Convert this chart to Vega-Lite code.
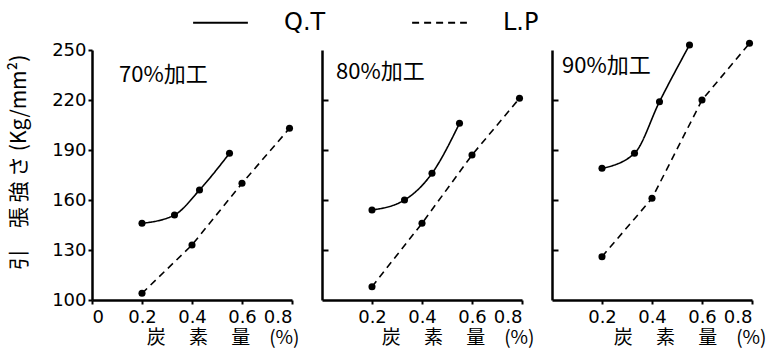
{
  "$schema": "https://vega.github.io/schema/vega-lite/v6.json",
  "background": "white",
  "padding": {"left": 8, "top": -6, "right": 5, "bottom": 2},
  "bounds": "flush",
  "spacing": 30,
  "config": {
    "view": {"stroke": null},
    "font": "DejaVu Sans",
    "axis": {
      "domainColor": "black", "domainWidth": 2.5, "tickColor": "black", "tickWidth": 2,
      "labelColor": "black", "titleColor": "black", "labelFont": "DejaVu Sans", "labelFontSize": 18,
      "grid": false, "titleFont": "Noto Sans CJK JP", "titleFontWeight": "normal", "titleFontSize": 20
    },
    "axisX": {"tickSize": 4, "labelPadding": 4, "titleFontSize": 19, "titleAnchor": "end", "titlePadding": 2},
    "legend": {"labelOffset": 35, "columnPadding": 82, "padding": 0},
    "title": {"font": "Noto Sans CJK JP", "fontSize": 22, "fontWeight": "normal", "color": "black", "frame": "group"}
  },
  "data": {
    "values": [
      {"panel": "70%加工", "series": "Q.T", "carbon": 0.2, "strength": 146},
      {"panel": "70%加工", "series": "Q.T", "carbon": 0.33, "strength": 151},
      {"panel": "70%加工", "series": "Q.T", "carbon": 0.43, "strength": 166},
      {"panel": "70%加工", "series": "Q.T", "carbon": 0.55, "strength": 188},
      {"panel": "70%加工", "series": "L.P", "carbon": 0.2, "strength": 104},
      {"panel": "70%加工", "series": "L.P", "carbon": 0.4, "strength": 133},
      {"panel": "70%加工", "series": "L.P", "carbon": 0.6, "strength": 170},
      {"panel": "70%加工", "series": "L.P", "carbon": 0.79, "strength": 203},
      {"panel": "80%加工", "series": "Q.T", "carbon": 0.2, "strength": 154},
      {"panel": "80%加工", "series": "Q.T", "carbon": 0.33, "strength": 160},
      {"panel": "80%加工", "series": "Q.T", "carbon": 0.44, "strength": 176},
      {"panel": "80%加工", "series": "Q.T", "carbon": 0.55, "strength": 206},
      {"panel": "80%加工", "series": "L.P", "carbon": 0.2, "strength": 108},
      {"panel": "80%加工", "series": "L.P", "carbon": 0.4, "strength": 146},
      {"panel": "80%加工", "series": "L.P", "carbon": 0.6, "strength": 187},
      {"panel": "80%加工", "series": "L.P", "carbon": 0.79, "strength": 221},
      {"panel": "90%加工", "series": "Q.T", "carbon": 0.2, "strength": 179},
      {"panel": "90%加工", "series": "Q.T", "carbon": 0.33, "strength": 188},
      {"panel": "90%加工", "series": "Q.T", "carbon": 0.43, "strength": 219},
      {"panel": "90%加工", "series": "Q.T", "carbon": 0.55, "strength": 253},
      {"panel": "90%加工", "series": "L.P", "carbon": 0.2, "strength": 126},
      {"panel": "90%加工", "series": "L.P", "carbon": 0.4, "strength": 161},
      {"panel": "90%加工", "series": "L.P", "carbon": 0.6, "strength": 220},
      {"panel": "90%加工", "series": "L.P", "carbon": 0.79, "strength": 254}
    ]
  },
  "hconcat": [
    {
      "width": 200, "height": 250,
      "title": {"text": "70%加工", "anchor": "start", "dx": 27, "dy": 50},
      "transform": [{"filter": "datum.panel == '70%加工'"}],
      "encoding": {
        "x": {"field": "carbon", "type": "quantitative", "scale": {"domain": [0, 0.8], "nice": false},
              "axis": {"values": [0, 0.2, 0.4, 0.6, 0.8], "labelExpr": "datum.value == 0 ? '0' : format(datum.value, '.1f')",
                       "title": "炭　 素　 量　(%)", "titleX": 207}},
        "y": {"field": "strength", "type": "quantitative", "scale": {"domain": [100, 250], "nice": false, "zero": false},
              "axis": {"values": [100, 130, 160, 190, 220, 250], "tickSize": 4, "labelPadding": 2,
                       "title": "引　張 強 さ (Kg/mm²)", "titleFontSize": 21, "titleY": 112, "titlePadding": 22}}
      },
      "layer": [
        {"transform": [{"filter": "datum.series == 'Q.T'"}],
         "mark": {"type": "line", "interpolate": "monotone", "color": "black", "strokeWidth": 1.6, "clip": false},
         "encoding": {"strokeDash": {"field": "series", "type": "nominal",
            "scale": {"domain": ["Q.T", "L.P"], "range": [[1, 0], [7, 5]]},
            "legend": {"title": null, "orient": "none", "legendX": 100, "legendY": -56, "direction": "horizontal",
                       "symbolType": "stroke", "symbolSize": 3000, "symbolStrokeWidth": 2, "symbolStrokeColor": "black",
                       "labelFontSize": 24, "labelFont": "DejaVu Sans", "labelColor": "black"}}}},
        {"transform": [{"filter": "datum.series == 'L.P'"}],
         "mark": {"type": "line", "interpolate": "linear", "color": "black", "strokeWidth": 1.6, "clip": false},
         "encoding": {"strokeDash": {"field": "series", "type": "nominal",
            "scale": {"domain": ["Q.T", "L.P"], "range": [[1, 0], [7, 5]]}}}},
        {"mark": {"type": "point", "filled": true, "color": "black", "size": 50, "opacity": 1, "clip": false}, "encoding": {}}
      ]
    },
    {
      "width": 200, "height": 250,
      "title": {"text": "80%加工", "anchor": "start", "dx": 14, "dy": 38},
      "transform": [{"filter": "datum.panel == '80%加工'"}],
      "encoding": {
        "x": {"field": "carbon", "type": "quantitative", "scale": {"domain": [0, 0.8], "nice": false},
              "axis": {"values": [0.2, 0.4, 0.6, 0.8], "format": ".1f", "title": "炭　 素　 量　(%)", "titleX": 212}},
        "y": {"field": "strength", "type": "quantitative", "scale": {"domain": [100, 250], "nice": false, "zero": false},
              "axis": {"values": [130, 160, 190, 220], "tickSize": -6, "labels": false, "title": null}}
      },
      "layer": [
        {"transform": [{"filter": "datum.series == 'Q.T'"}],
         "mark": {"type": "line", "interpolate": "monotone", "color": "black", "strokeWidth": 1.6, "clip": false},
         "encoding": {"strokeDash": {"field": "series", "type": "nominal",
            "scale": {"domain": ["Q.T", "L.P"], "range": [[1, 0], [7, 5]]}}}},
        {"transform": [{"filter": "datum.series == 'L.P'"}],
         "mark": {"type": "line", "interpolate": "linear", "color": "black", "strokeWidth": 1.6, "clip": false},
         "encoding": {"strokeDash": {"field": "series", "type": "nominal",
            "scale": {"domain": ["Q.T", "L.P"], "range": [[1, 0], [7, 5]]}}}},
        {"mark": {"type": "point", "filled": true, "color": "black", "size": 50, "opacity": 1, "clip": false}, "encoding": {}}
      ]
    },
    {
      "width": 200, "height": 250,
      "title": {"text": "90%加工", "anchor": "start", "dx": 10, "dy": 42},
      "transform": [{"filter": "datum.panel == '90%加工'"}],
      "encoding": {
        "x": {"field": "carbon", "type": "quantitative", "scale": {"domain": [0, 0.8], "nice": false},
              "axis": {"values": [0.2, 0.4, 0.6, 0.8], "format": ".1f", "title": "炭　 素　 量　(%)", "titleX": 214}},
        "y": {"field": "strength", "type": "quantitative", "scale": {"domain": [100, 250], "nice": false, "zero": false},
              "axis": {"values": [130, 160, 190, 220], "tickSize": -6, "labels": false, "title": null}}
      },
      "layer": [
        {"transform": [{"filter": "datum.series == 'Q.T'"}],
         "mark": {"type": "line", "interpolate": "monotone", "color": "black", "strokeWidth": 1.6, "clip": false},
         "encoding": {"strokeDash": {"field": "series", "type": "nominal",
            "scale": {"domain": ["Q.T", "L.P"], "range": [[1, 0], [7, 5]]}}}},
        {"transform": [{"filter": "datum.series == 'L.P'"}],
         "mark": {"type": "line", "interpolate": "linear", "color": "black", "strokeWidth": 1.6, "clip": false},
         "encoding": {"strokeDash": {"field": "series", "type": "nominal",
            "scale": {"domain": ["Q.T", "L.P"], "range": [[1, 0], [7, 5]]}}}},
        {"mark": {"type": "point", "filled": true, "color": "black", "size": 50, "opacity": 1, "clip": false}, "encoding": {}}
      ]
    }
  ]
}
